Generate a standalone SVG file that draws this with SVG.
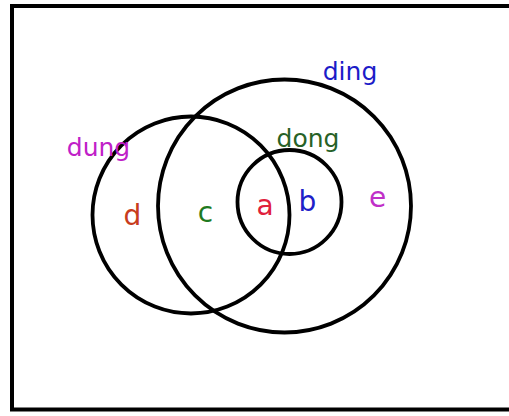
<svg xmlns="http://www.w3.org/2000/svg" width="509" height="416" viewBox="0 0 509 416">
<style>
.c{fill:none;stroke:#000;stroke-width:3.8}
.l{font-family:"DejaVu Sans",sans-serif;font-size:25px;text-anchor:middle}
.r{font-family:"DejaVu Sans",sans-serif;font-size:28px;text-anchor:middle}
</style>
<rect width="509" height="416" fill="#fff"/>
<rect x="12" y="6" width="510" height="403.5" fill="none" stroke="#000" stroke-width="4"/>
<g id="dung"><circle class="c" cx="191" cy="215" r="98.5"/><text class="l" x="98.5" y="156" fill="#c020c8">dung</text></g>
<g id="ding"><circle class="c" cx="284.5" cy="206" r="126.5"/><text class="l" x="350" y="80" fill="#1c1cc8">ding</text></g>
<g id="dong"><circle class="c" cx="289.5" cy="202" r="52"/><text class="l" x="308" y="147" fill="#276227">dong</text></g>
<g id="regions">
<text class="r" x="132.5" y="225" fill="#c83c1c">d</text>
<text class="r" x="205.5" y="222" fill="#1f7a1f">c</text>
<text class="r" x="265" y="215" fill="#e0203c">a</text>
<text class="r" x="307.5" y="211" fill="#2020c8">b</text>
<text class="r" x="377.5" y="207" fill="#c030c8">e</text>
</g>
</svg>
